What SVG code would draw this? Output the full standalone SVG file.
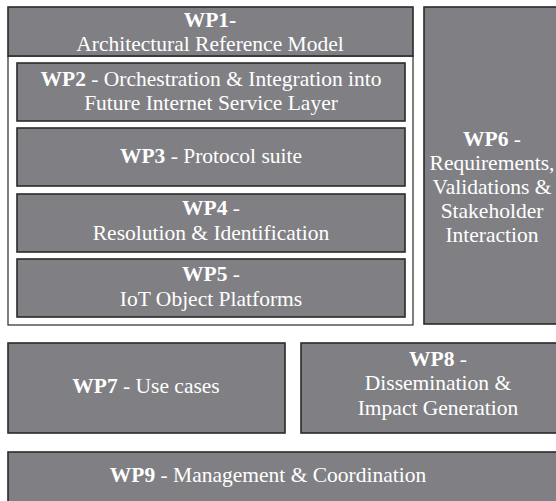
<svg xmlns="http://www.w3.org/2000/svg" width="556" height="501" viewBox="0 0 556 501">
<style>
.box{fill:#808084;stroke:#2a2a2a;stroke-width:1.6}
.frame{fill:#ffffff;stroke:#2a2a2a;stroke-width:1.2}
text{font-family:"Liberation Serif","Times New Roman",serif;font-size:21.5px;fill:#ffffff;text-anchor:middle}
.b{font-weight:bold}
</style>
<rect width="556" height="501" fill="#ffffff"/>
<g id="frame"><rect class="frame" x="8" y="56" width="405" height="269"/></g>
<g id="wp1"><rect class="box" x="8" y="7" width="405" height="49"/>
<text x="210" y="27"><tspan class="b">WP1-</tspan></text>
<text x="210" y="51">Architectural Reference Model</text></g>
<g id="wp2"><rect class="box" x="17" y="63" width="388" height="58"/>
<text x="211" y="86"><tspan class="b">WP2</tspan> - Orchestration &amp; Integration into</text>
<text x="211" y="110">Future Internet Service Layer</text></g>
<g id="wp3"><rect class="box" x="17" y="128" width="388" height="58"/>
<text x="211" y="163"><tspan class="b">WP3</tspan> - Protocol suite</text></g>
<g id="wp4"><rect class="box" x="17" y="194" width="388" height="58"/>
<text x="211" y="215"><tspan class="b">WP4</tspan> -</text>
<text x="211" y="240">Resolution &amp; Identification</text></g>
<g id="wp5"><rect class="box" x="17" y="259" width="388" height="58"/>
<text x="211" y="281"><tspan class="b">WP5</tspan> -</text>
<text x="211" y="306">IoT Object Platforms</text></g>
<g id="wp6"><rect class="box" x="424" y="7" width="140" height="317"/>
<text x="492" y="146"><tspan class="b">WP6</tspan> -</text>
<text x="492" y="170">Requirements,</text>
<text x="492" y="194">Validations &amp;</text>
<text x="492" y="218">Stakeholder</text>
<text x="492" y="242">Interaction</text></g>
<g id="wp7"><rect class="box" x="8" y="343" width="277" height="90"/>
<text x="146" y="393"><tspan class="b">WP7</tspan> - Use cases</text></g>
<g id="wp8"><rect class="box" x="301" y="343" width="277" height="90"/>
<text x="438" y="366"><tspan class="b">WP8</tspan> -</text>
<text x="438" y="390">Dissemination &amp;</text>
<text x="438" y="415">Impact Generation</text></g>
<g id="wp9"><rect class="box" x="8" y="452" width="560" height="60"/>
<text x="268" y="482"><tspan class="b">WP9</tspan> - Management &amp; Coordination</text></g>
<g id="connectors"></g>
</svg>
